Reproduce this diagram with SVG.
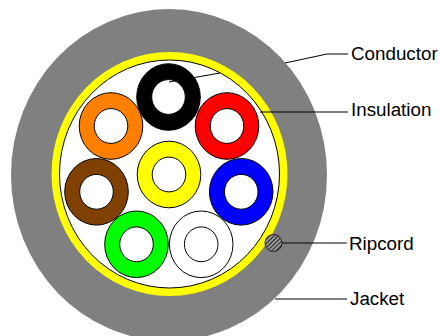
<svg xmlns="http://www.w3.org/2000/svg" width="441" height="336" viewBox="0 0 441 336">
<style>
.o{stroke:#000;stroke-width:1}
.h{fill:#fff;stroke:#000;stroke-width:1}
.l{fill:none;stroke:#000;stroke-width:1}
text{font-family:"Liberation Sans",Arial,sans-serif;font-size:18.8px;fill:#000}
</style>
<defs>
<pattern id="hatch" width="3" height="3" patternUnits="userSpaceOnUse" patternTransform="rotate(-45)">
<rect width="3" height="3" fill="#999"/><rect width="3" height="1" fill="#222"/>
</pattern>
<ellipse id="outer" rx="31.800" ry="33.300"/>
<ellipse id="hole" rx="16.800" ry="17.400"/>
</defs>
<rect width="441" height="336" fill="#fff"/>
<g id="jacket"><ellipse cx="169" cy="175" rx="158" ry="166" fill="#808080"/></g>
<g id="insulation-ring"><ellipse cx="169.5" cy="174" rx="118" ry="122" fill="#ff0"/><ellipse cx="169.5" cy="174" rx="110" ry="114" fill="#fff" stroke="#000"/></g>
<g id="connectors">
<path class="l" d="M169 82L220 73M285 63L327 54H348"/>
<path class="l" d="M260 112H348"/>
<path class="l" d="M282 243H347"/>
<path class="l" d="M275 299H347"/>
</g>
<g id="cable-black" transform="translate(168.500,97)"><use href="#outer" class="o" fill="#000"/><use href="#hole" class="h"/></g>
<path class="l" d="M169 82L183 79.600"/>
<g id="cable-orange" transform="translate(111,126)"><use href="#outer" class="o" fill="#ff8000"/><use href="#hole" class="h"/></g>
<g id="cable-red" transform="translate(227,126)"><use href="#outer" class="o" fill="#f00"/><use href="#hole" class="h"/></g>
<g id="cable-yellow" transform="translate(169,174.500)"><use href="#outer" class="o" fill="#ff0"/><use href="#hole" class="h"/></g>
<g id="cable-brown" transform="translate(96.500,191.800)"><use href="#outer" class="o" fill="#804000"/><use href="#hole" class="h"/></g>
<g id="cable-blue" transform="translate(241.200,191.800)"><use href="#outer" class="o" fill="#00f"/><use href="#hole" class="h"/></g>
<g id="cable-green" transform="translate(136.500,244.300)"><use href="#outer" class="o" fill="#0f0"/><use href="#hole" class="h"/></g>
<g id="cable-white" transform="translate(201.200,244.300)"><use href="#outer" class="o" fill="#fff"/><use href="#hole" class="h"/></g>
<g id="ripcord"><circle cx="273.500" cy="243" r="8.500" fill="url(#hatch)" stroke="#222"/></g>
<g id="label-conductor"><text x="351" y="60">Conductor</text></g>
<g id="label-insulation"><text x="351" y="116">Insulation</text></g>
<g id="label-ripcord"><text x="349" y="250">Ripcord</text></g>
<g id="label-jacket"><text x="350" y="305">Jacket</text></g>
</svg>
